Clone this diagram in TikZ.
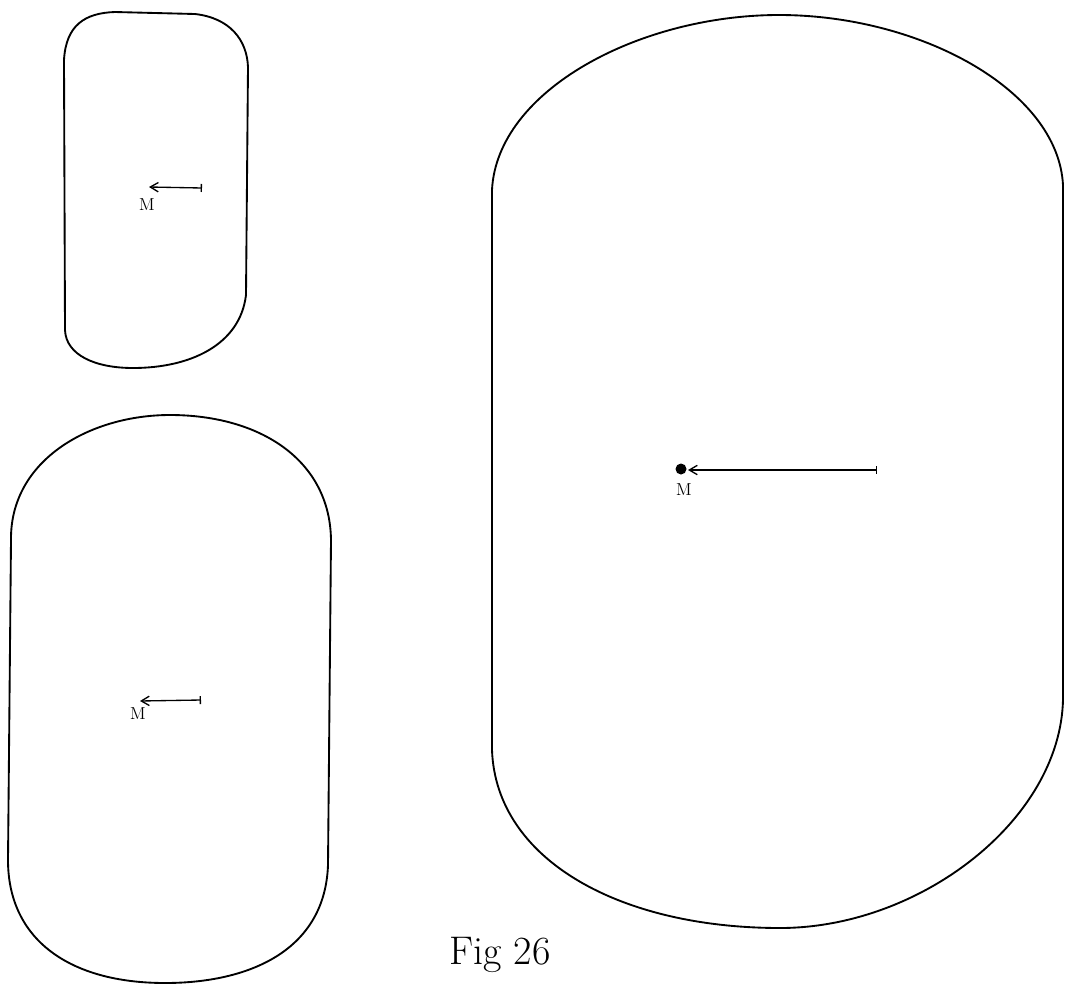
\documentclass[tikz,border=0pt]{standalone}
\usepackage{tikz}
\usetikzlibrary{arrows.meta,positioning}

\begin{document}
\begin{tikzpicture}[
        x=0.75pt, y=-0.75pt,
        outline/.style={draw=black, line width=1.4pt, line join=round},
        vec/.style={{Bar[width=6pt,line width=1pt]}-{Straight Barb[length=6pt,width=7pt,line width=1pt]}, line width=1pt},
        mass/.style={font=\fontsize{13}{15}\selectfont, inner sep=0pt},
      ]
      \useasboundingbox (0,0) rectangle (1065,986);
      % small body (top left)
      \draw [outline] (64,60) .. controls (66,25) and (85,13) .. (115,12) -- (195,14)
            .. controls (230,18) and (247,40) .. (248,67) -- (246,295)
            .. controls (240,345) and (190,368) .. (133,368)
            .. controls (95,368) and (66,355) .. (65,330) -- cycle;
      % middle body (bottom left)
      \draw [outline] (11,540) .. controls (10,460) and (90,415) .. (170,415)
            .. controls (260,415) and (330,460) .. (331,540) -- (328,865)
            .. controls (325,950) and (250,983) .. (165,983)
            .. controls (70,983) and (8,940) .. (8,860) -- cycle;
      % large body (right)
      \draw [outline] (492,190) .. controls (497,90) and (640,15) .. (779,15)
            .. controls (920,15) and (1058,90) .. (1063,185) -- (1063,700)
            .. controls (1060,820) and (920,928) .. (780,928)
            .. controls (620,928) and (496,860) .. (492,750) -- cycle;
      % mass points and vectors
      \coordinate (atip) at (149,187);
      \coordinate (aend) at (202,188);
      \node [mass] (am) at (147,205) {M};
      \draw [vec] (aend) -- (atip);
      \coordinate (btip) at (140,701);
      \coordinate (bend) at (201,700);
      \node [mass] (bm) at (138,714) {M};
      \draw [vec] (bend) -- (btip);
      \coordinate (ctip) at (688,470);
      \coordinate (cend) at (877,470);
      \fill (681,469) circle (5.5);
      \node [mass] (cm) at (684,490) {M};
      \draw [vec] (cend) -- (ctip);
      % caption
      \node [font=\fontsize{30}{34}\selectfont] (caption) at (500,955) {Fig 26};
    \end{tikzpicture}
\end{document}
